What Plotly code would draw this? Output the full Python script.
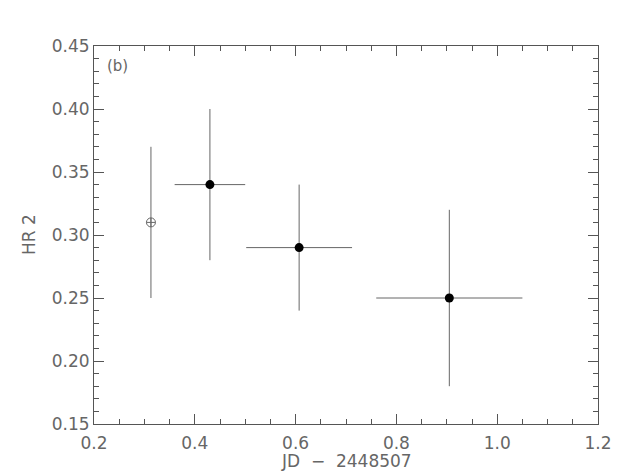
import plotly.graph_objects as go

# Open (hollow) point
open_x = [0.313]
open_y = [0.31]
open_yerr_plus = [0.06]
open_yerr_minus = [0.06]

# Filled points
jd = [0.43, 0.607, 0.905]
hr2 = [0.34, 0.29, 0.25]
jd_err = [0.07, 0.105, 0.145]
hr2_err_plus = [0.06, 0.05, 0.07]
hr2_err_minus = [0.06, 0.05, 0.07]

x_ticks = [0.2, 0.4, 0.6, 0.8, 1.0, 1.2]
x_ticklabels = ["0.2", "0.4", "0.6", "0.8", "1.0", "1.2"]
y_ticks = [0.15, 0.20, 0.25, 0.30, 0.35, 0.40, 0.45]
y_ticklabels = ["0.15", "0.20", "0.25", "0.30", "0.35", "0.40", "0.45"]
x_title = "JD  \u2212  2448507"
y_title = "HR 2"
panel_label = "(b)"

axis_col = "#555555"
err_col = "#666666"
font = dict(family="DejaVu Sans, Liberation Sans, sans-serif", size=17, color="#666666")

fig = go.Figure()
fig.add_trace(go.Scatter(
    x=open_x, y=open_y, mode="markers",
    marker=dict(symbol="circle-cross-open", size=9, color=err_col, line=dict(width=1, color=err_col)),
    error_y=dict(type="data", symmetric=False, array=open_yerr_plus, arrayminus=open_yerr_minus,
                 color=err_col, thickness=1, width=0),
    showlegend=False, hoverinfo="skip"))
fig.add_trace(go.Scatter(
    x=jd, y=hr2, mode="markers",
    marker=dict(symbol="circle", size=9, color="black"),
    error_x=dict(type="data", array=jd_err, color=err_col, thickness=1, width=0),
    error_y=dict(type="data", symmetric=False, array=hr2_err_plus, arrayminus=hr2_err_minus,
                 color=err_col, thickness=1, width=0),
    showlegend=False, hoverinfo="skip"))

common = dict(showgrid=False, zeroline=False, showline=True, linecolor=axis_col, linewidth=1,
              mirror="allticks", ticks="inside", tickcolor=axis_col, ticklen=10, tickwidth=1,
              tickfont=font, automargin=False)

fig.update_xaxes(range=[0.2, 1.2], tickvals=x_ticks, ticktext=x_ticklabels,
                 ticklabelstandoff=4,
                 minor=dict(dtick=0.05, ticks="inside", ticklen=5, tickcolor=axis_col, showgrid=False),
                 **common)
fig.update_yaxes(range=[0.15, 0.45], tickvals=y_ticks, ticktext=y_ticklabels,
                 minor=dict(dtick=0.01, ticks="inside", ticklen=5, tickcolor=axis_col, showgrid=False),
                 **common)

fig.add_annotation(text=x_title, xref="paper", yref="paper", x=0.5, y=0, yshift=-37,
                   xanchor="center", yanchor="middle", showarrow=False, font=font)
fig.add_annotation(text=y_title, xref="paper", yref="paper", x=0, y=0.5, xshift=-65,
                   xanchor="center", yanchor="middle", textangle=-90, showarrow=False, font=font)
fig.add_annotation(text=panel_label, xref="paper", yref="paper", x=0.022, y=0.975,
                   xanchor="left", yanchor="top", showarrow=False,
                   font=dict(family=font["family"], size=15, color="#666666"))

fig.update_layout(width=629, height=472, margin=dict(l=94, r=31, t=46, b=48),
                  plot_bgcolor="white", paper_bgcolor="white")
fig.write_html("out.html", config={"displayModeBar": False},
               post_script="document.body.style.margin='0px';document.body.style.overflow='hidden';")
